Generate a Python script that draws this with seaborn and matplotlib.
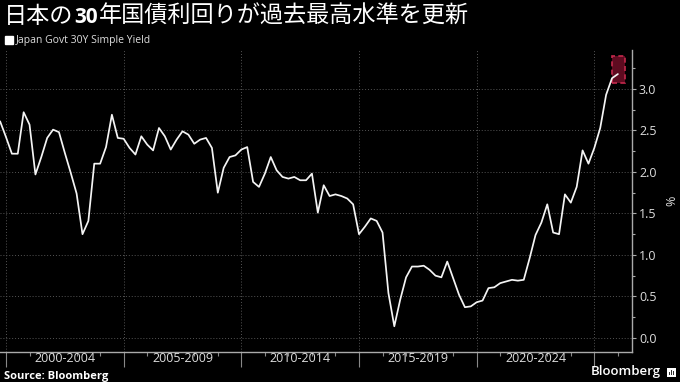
import numpy as np
import pandas as pd
import matplotlib
matplotlib.use("Agg")
import matplotlib.pyplot as plt
import matplotlib.transforms as mtransforms
from matplotlib.patches import Rectangle
from matplotlib.lines import Line2D
import seaborn as sns

# ---------------- data ----------------
series_name = "Japan Govt 30Y Simple Yield"
quarters = pd.period_range("1999Q4", "2026Q1", freq="Q")
yields = [
    2.61, 2.42, 2.22, 2.22, 2.72, 2.57, 1.97, 2.18, 2.41, 2.51,
    2.48, 2.23, 1.99, 1.74, 1.25, 1.41, 2.10, 2.10, 2.30, 2.69,
    2.41, 2.40, 2.29, 2.21, 2.43, 2.33, 2.26, 2.53, 2.43, 2.27,
    2.39, 2.49, 2.45, 2.34, 2.39, 2.41, 2.29, 1.75, 2.05, 2.18,
    2.20, 2.27, 2.30, 1.88, 1.82, 1.98, 2.18, 2.02, 1.94, 1.92,
    1.94, 1.90, 1.90, 1.98, 1.51, 1.84, 1.71, 1.73, 1.71, 1.68,
    1.61, 1.25, 1.34, 1.44, 1.41, 1.27, 0.54, 0.14, 0.46, 0.73,
    0.86, 0.86, 0.87, 0.82, 0.75, 0.73, 0.92, 0.72, 0.52, 0.37,
    0.38, 0.43, 0.45, 0.60, 0.61, 0.66, 0.68, 0.70, 0.69, 0.70,
    0.96, 1.24, 1.39, 1.61, 1.27, 1.25, 1.73, 1.63, 1.82, 2.26,
    2.10, 2.29, 2.53, 2.93, 3.13, 3.18,
]
period_starts = [2000, 2005, 2010, 2015, 2020]
period_labels = ["2000-2004", "2005-2009", "2010-2014", "2015-2019", "2020-2024"]
y_ticks = [0.0, 0.5, 1.0, 1.5, 2.0, 2.5, 3.0]
title_parts = [("日本の", "cjk", "normal"), ("30", "latin", "bold"),
               ("年国債利回りが過去最高水準を更新", "cjk", "normal")]
source_text = "Source: Bloomberg"
unit_label = "%"

df = pd.DataFrame({
    "t": quarters.year + (quarters.quarter - 1) / 4.0,
    "yield": yields,
})

# ---------------- style ----------------
sns.set_style("dark", {"axes.facecolor": "black", "figure.facecolor": "black",
                       "axes.edgecolor": "#aaaaaa", "grid.color": "#555555",
                       "text.color": "white", "xtick.color": "#999999",
                       "ytick.color": "#aaaaaa"})
plt.rcParams["font.family"] = ["Open Sans", "Noto Sans CJK JP", "DejaVu Sans"]

W, H = 680, 382
fig = plt.figure(figsize=(W / 100, H / 100), dpi=100, facecolor="black")
ax = fig.add_axes([0, 30 / H, 632 / W, 302 / H])
ax.set_facecolor("black")

sns.lineplot(data=df, x="t", y="yield", ax=ax, color="#f4f4f4",
             linewidth=1.25, legend=False)

ax.set_xlim(1999.745, 2026.6)
ax.set_ylim(-0.17, 3.47)

# x axis
ax.set_xticks(list(range(2000, 2026, 5)))
ax.set_xticks(list(range(2000, 2027)), minor=True)
ax.tick_params(axis="x", which="major", length=11, width=0.8, color="#888888",
               labelbottom=False, direction="out", bottom=True)
ax.tick_params(axis="x", which="minor", length=3, width=0.8, color="#888888",
               direction="out", bottom=True)
blend = mtransforms.blended_transform_factory(ax.transData, ax.transAxes)
for start, lab in zip(period_starts, period_labels):
    ax.text(start + 2.5, -0.022, lab, transform=blend, ha="center", va="center",
            fontsize=9, color="#dddddd")

# y axis
ax.yaxis.tick_right()
ax.set_yticks(y_ticks)
ax.set_yticklabels([f"{v:.1f}" for v in y_ticks])
ax.set_yticks([0.25, 0.75, 1.25, 1.75, 2.25, 2.75, 3.25], minor=True)
ax.tick_params(axis="y", which="major", length=3, width=0.8, pad=2,
               labelsize=9, labelcolor="#dddddd", color="#aaaaaa", right=True, left=False)
ax.tick_params(axis="y", which="minor", length=2, width=0.8, color="#aaaaaa",
               right=True, left=False)
ax.set_xlabel("")
ax.set_ylabel("")

ax.grid(True, which="major", color="#555555", linestyle=(0, (1, 2)), linewidth=0.7)
ax.grid(False, which="minor")

for side in ["left", "top"]:
    ax.spines[side].set_visible(False)
for side in ["right", "bottom"]:
    ax.spines[side].set_visible(True)
    ax.spines[side].set_color("#aaaaaa")
    ax.spines[side].set_linewidth(1.0)

# highlight box on the latest reading
ax.add_patch(Rectangle((2025.74, 3.07), 0.57, 0.33, facecolor="#5e0b20",
                       edgecolor="#c4284c", linestyle=(0, (3, 2)), linewidth=1.2,
                       zorder=1))

fig.text(672 / W, 1 - 201 / H, unit_label, rotation=90, ha="center", va="center",
         fontsize=9, color="#dddddd")

# legend
handle = Line2D([], [], marker="s", linestyle="none", markersize=5.5,
                markerfacecolor="white", markeredgecolor="white")
fig.legend([handle], [series_name], loc="center left",
           bbox_to_anchor=(5 / W, 1 - 41 / H), frameon=False, fontsize=7.5,
           labelcolor="#dddddd", handletextpad=0.25, borderaxespad=0,
           handlelength=0.8, borderpad=0)

# title (mixed fonts)
fig.canvas.draw()
renderer = fig.canvas.get_renderer()
x = 4 / W
for txt, kind, weight in title_parts:
    fam = ["Noto Sans CJK JP", "DejaVu Sans"] if kind == "cjk" else ["Open Sans", "DejaVu Sans"]
    size = 16.7 if kind == "cjk" else 15
    t = fig.text(x, 1 - 23 / H, txt, family=fam, fontweight=weight, fontsize=size,
                 color="white", va="baseline", ha="left")
    bb = t.get_window_extent(renderer)
    x += bb.width / fig.bbox.width + 1 / W

# footer
fig.text(4 / W, 1 - 376 / H, source_text, fontweight="bold", fontsize=8,
         color="white", va="center", ha="left")
fig.text(661 / W, 1 - 372 / H, "Bloomberg", fontweight="semibold", fontsize=9.5,
         color="white", va="center", ha="right")
fig.add_artist(Rectangle((667 / W, 1 - 377 / H), 9 / W, 9 / H, transform=fig.transFigure,
                         facecolor="white", edgecolor="none"))
for i, hgt in enumerate([3, 5, 4]):
    fig.add_artist(Rectangle(((669 + i * 2) / W, 1 - 375 / H), 1.2 / W, hgt / H,
                             transform=fig.transFigure, facecolor="#333333",
                             edgecolor="none"))

fig.savefig("out.png", dpi=100, facecolor="black")
